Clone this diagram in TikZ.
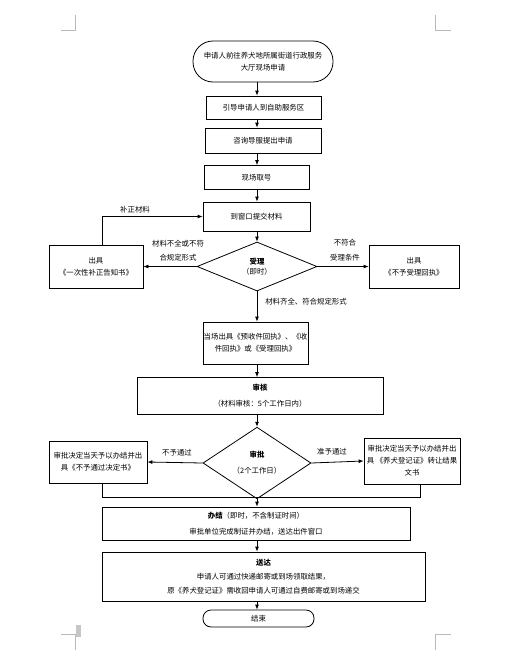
\documentclass[tikz,border=0pt]{standalone}
\usepackage{fontspec}
\setmainfont{Noto Sans CJK SC}
\usetikzlibrary{shapes.geometric,arrows.meta}
\begin{document}
\begin{tikzpicture}[x=1pt,y=-1pt,
 every node/.style={font=\fontsize{7.4}{12}\selectfont},
 box/.style={draw,line width=0.8pt,inner sep=0pt,align=center},
 dia/.style={draw,diamond,line width=0.8pt,inner sep=0pt,align=center},
 arr/.style={draw,line width=0.8pt,-{Latex[length=5pt,width=4pt]}},
 lbl/.style={inner sep=0pt,align=center},
 cmark/.style={draw=gray!55,line width=0.7pt}]
\useasboundingbox (0,0) rectangle (512,664);
% corner marks
\draw[cmark] (61,30) -- (75,30) -- (75,15);
\draw[cmark] (435,15) -- (435,30) -- (451,30);
\draw[cmark] (61,634) -- (75,634) -- (75,650);
\fill[gray!45] (76,625) rectangle (81,637);
\draw[cmark] (435,650) -- (435,634) -- (451,634);
% nodes
\node[box,minimum width=140pt,minimum height=41pt,rounded corners=20pt] (start) at (263,61.5) {申请人前往养犬地所属街道行政服务\\大厅现场申请};
\node[box,minimum width=115pt,minimum height=23pt] (b2) at (263.5,107.5) {引导申请人到自助服务区};
\node[box,minimum width=116pt,minimum height=25pt] (b3) at (263,140.5) {咨询导服提出申请};
\node[box,minimum width=105pt,minimum height=24pt] (b4) at (256.5,177.5) {现场取号};
\node[box,minimum width=107pt,minimum height=29pt] (b5) at (256.5,216.5) {到窗口提交材料};
\node[dia,minimum width=120pt,minimum height=49pt] (d1) at (257,266.5) {\textbf{受理}\\[-2pt]（即时）};
\node[box,minimum width=94pt,minimum height=43pt] (L1) at (96,266.5) {出具\\《一次性补正告知书》};
\node[box,minimum width=90pt,minimum height=43pt] (R1) at (414,266.5) {出具\\《不予受理回执》};
\node[box,minimum width=105pt,minimum height=42pt] (b6) at (255.5,343) {当场出具《预收件回执》、《收\\件回执》或《受理回执》};
\node[box,minimum width=246pt,minimum height=37pt] (b7) at (260,396) {\textbf{审核}\\[4pt]（材料审核：5个工作日内）};
\node[dia,minimum width=108pt,minimum height=58pt] (d2) at (257,463) {\textbf{审批}\\[4pt]（2个工作日）};
\node[box,minimum width=98pt,minimum height=42pt] (L2) at (98,462) {审批决定当天予以办结并出\\具《不予通过决定书》};
\node[box,minimum width=96pt,minimum height=46pt] (R2) at (412,461) {审批决定当天予以办结并出\\具 《养犬登记证》转让结果\\文书};
\node[box,minimum width=308pt,minimum height=33pt] (b8) at (256,523.5) {\textbf{办结}（即时，不含制证时间）\\[4pt]审批单位完成制证并办结，送达出件窗口};
\node[box,minimum width=323pt,minimum height=49pt] (b9) at (263.5,576.5) {\textbf{送达}\\[2pt]申请人可通过快递邮寄或到场领取结果，\\[2pt]原《养犬登记证》需收回申请人可通过自费邮寄或到场递交};
\node[box,minimum width=111pt,minimum height=17pt,rounded corners=8pt] (end) at (258.5,618.5) {结束};
% labels
\node[lbl] (t1) at (135,210) {补正材料};
\node[lbl] (t2) at (178,251) {材料不全或不符\\[2pt]合规定形式};
\node[lbl] (t3) at (345,250.5) {不符合\\[3pt]受理条件};
\node[lbl] (t4) at (306,302) {材料齐全、符合规定形式};
\node[lbl] (t5) at (177,453) {不予通过};
\node[lbl] (t6) at (332,452) {准予通过};
% connectors
\draw[arr] (start.south -| d1) -- (b2.north -| d1);
\draw[arr] (b2.south -| d1) -- (b3.north -| d1);
\draw[arr] (b3.south -| d1) -- (b4.north -| d1);
\draw[arr] (b4.south -| d1) -- (b5.north -| d1);
\draw[arr] (b5.south -| d1) -- (d1.north);
\draw[arr] (d1.west) -- (L1.east);
\draw[arr] (d1.east) -- (R1.west);
\draw[arr] ([xshift=6pt]L1.north) |- (b5.west);
\draw[arr] (d1.south) -- (b6.north -| d1);
\draw[arr] (b6.south -| d1) -- (b7.north -| d1);
\draw[arr] (b7.south -| d1) -- (d2.north);
\draw[arr] (d2.west) -- (L2.east);
\draw[arr] (d2.east) -- (R2.west);
\coordinate (m) at (257,497);
\draw[line width=0.8pt] ([xshift=4pt]L2.south) -- ([xshift=4pt]L2.south |- m) -- ([xshift=8pt]R2.south |- m) -- ([xshift=8pt]R2.south);
\draw[arr] (d2.south) -- (b8.north -| d2);
\draw[arr] (b8.south -| d2) -- (b9.north -| d2);
\draw[arr] (b9.south -| d2) -- (end.north -| d2);
\end{tikzpicture}
\end{document}
